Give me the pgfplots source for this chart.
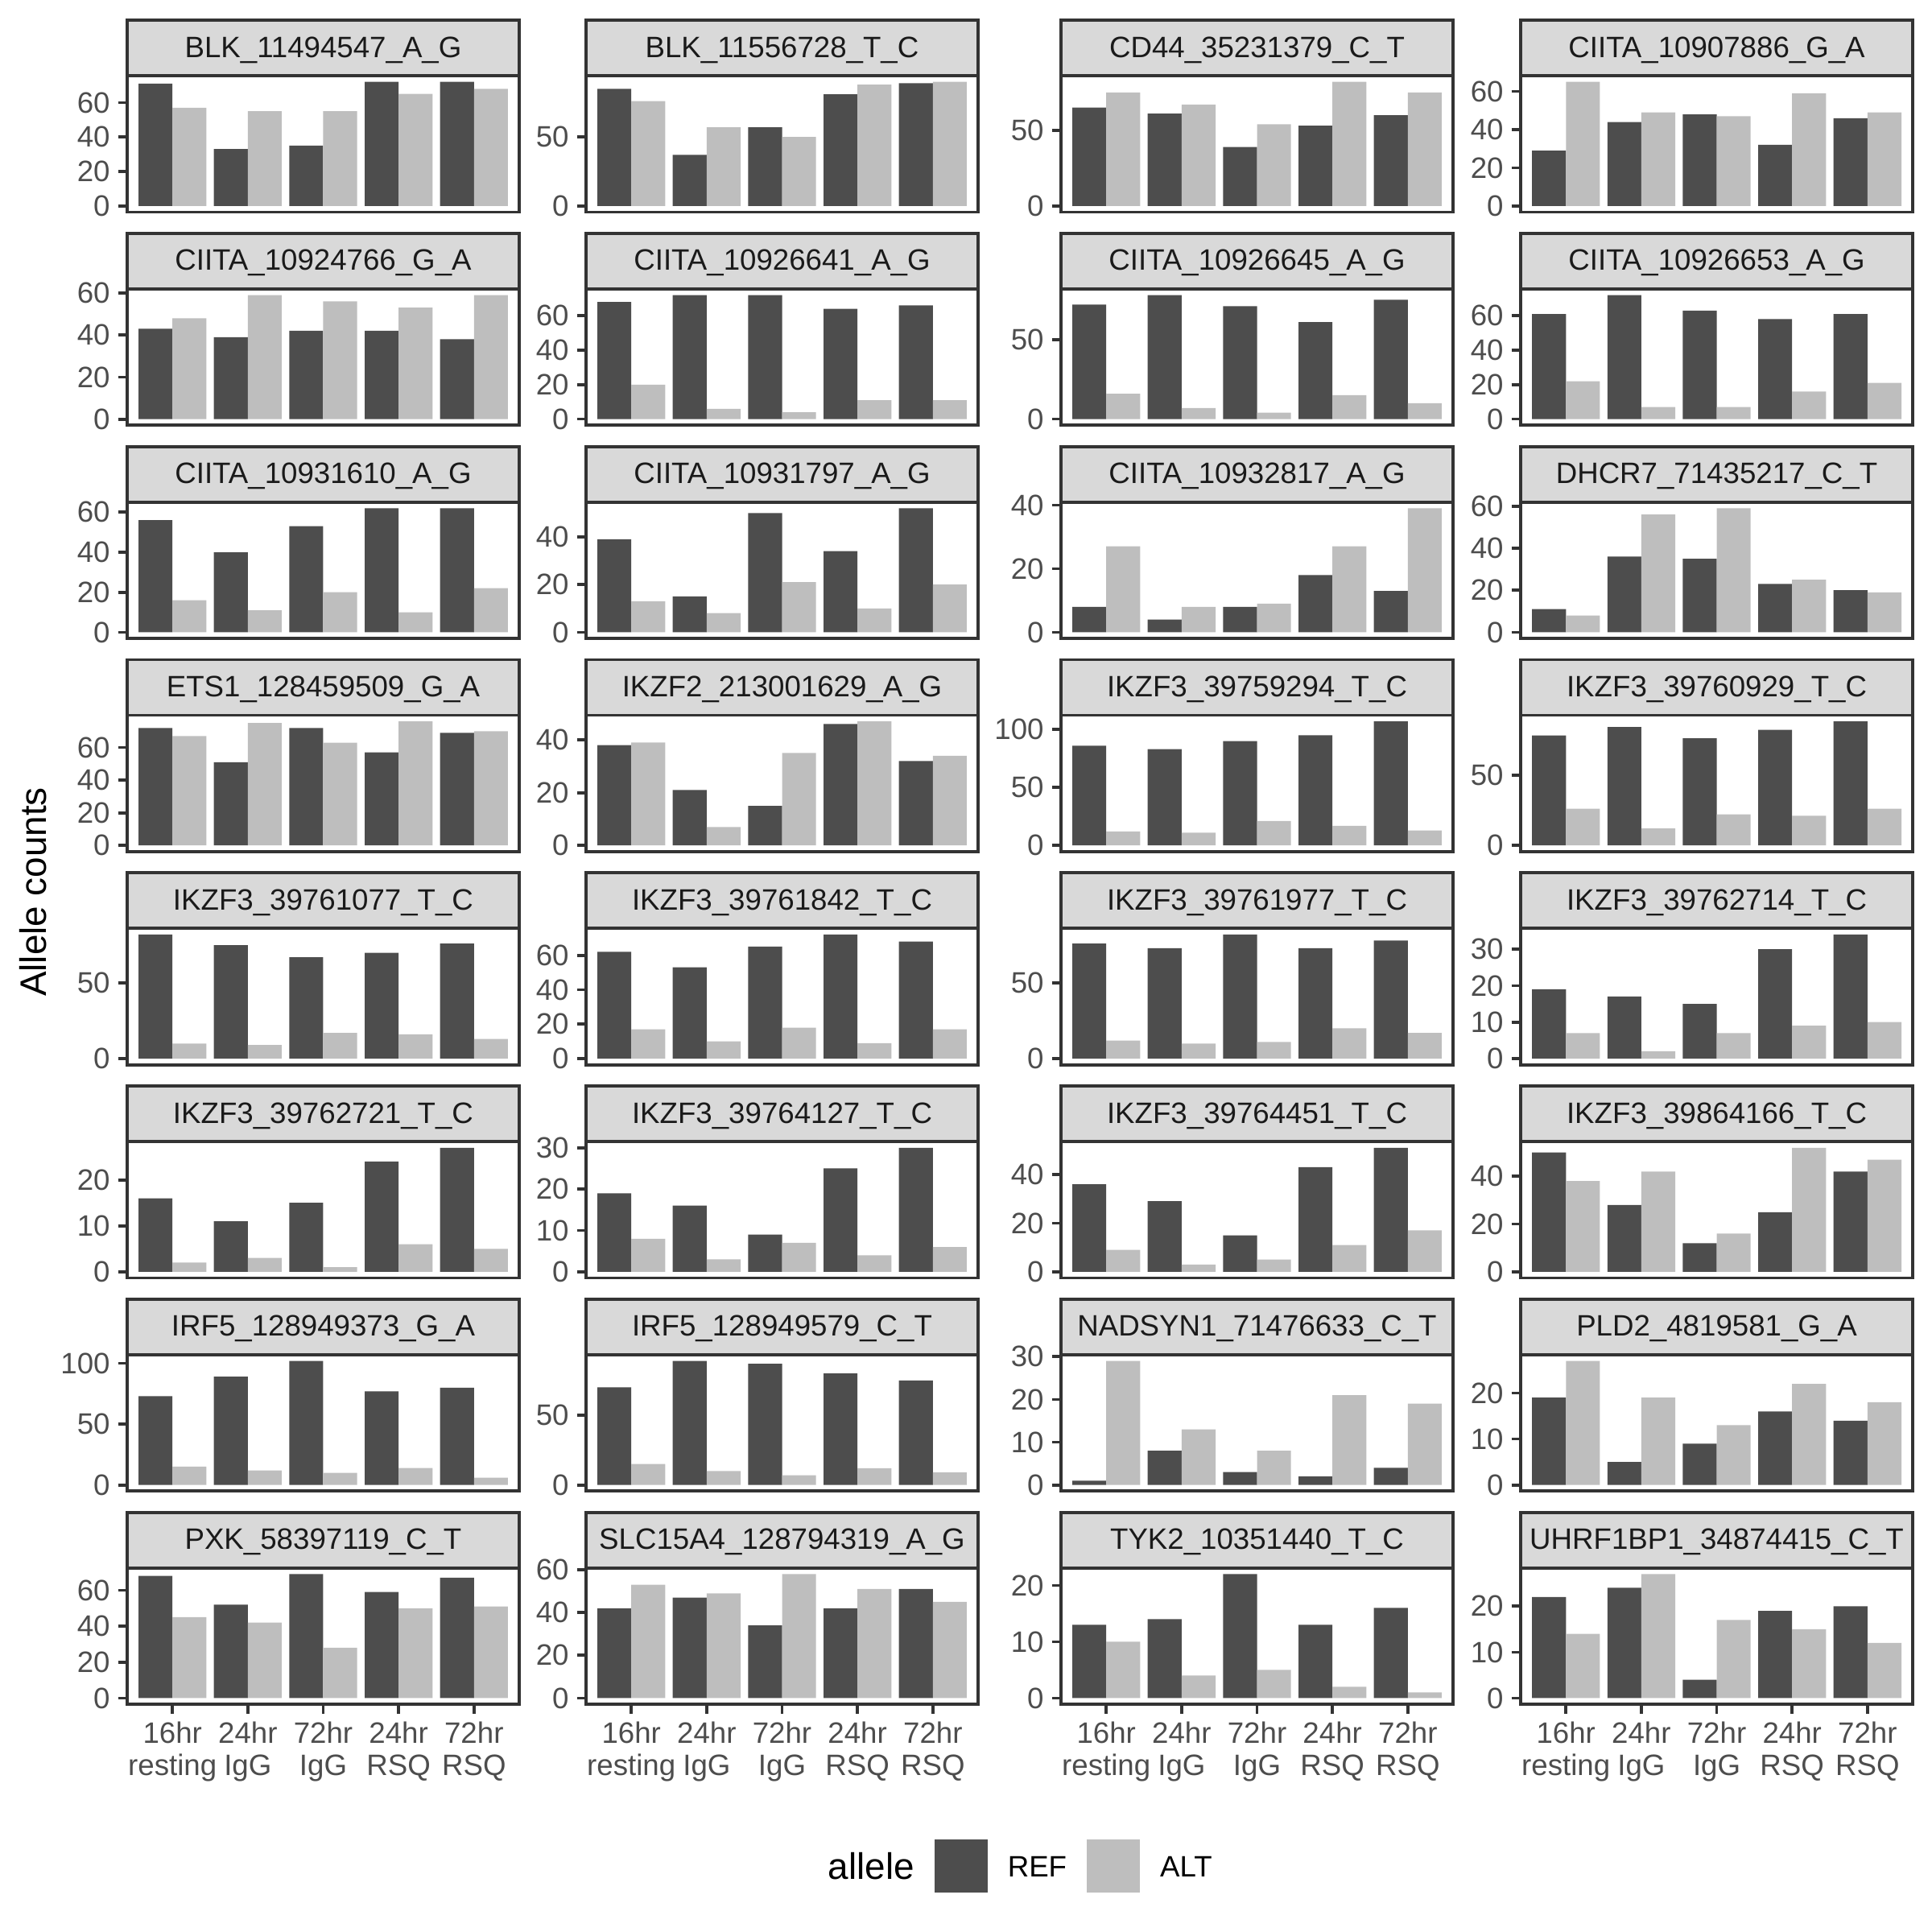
\documentclass[border=0pt]{standalone}
\usepackage{fontspec}
\setmainfont{Liberation Sans}
\usepackage{pgfplots}
\pgfplotsset{compat=1.18}
\definecolor{cREF}{HTML}{4D4D4D}
\definecolor{cALT}{HTML}{BEBEBE}
\definecolor{g20}{HTML}{333333}
\definecolor{g30}{HTML}{4D4D4D}
\definecolor{g85}{HTML}{D9D9D9}
\definecolor{g10}{HTML}{1A1A1A}
\newcommand{\ticksize}{\fontsize{8.8}{9.6}\selectfont}
\pgfplotsset{
 panel/.style={
  anchor=north west, scale only axis, width=116.88pt, height=40.68pt,
  xmin=0.4, xmax=5.6, enlargelimits=false, ybar,
  axis line style={draw=g20, line width=0.9pt},
  tick align=outside, tick pos=left, major tick length=2.75pt,
  tick style={draw=g20, line width=0.9pt},
  xtick=\empty, minor tick num=0,
  ticklabel style={font=\ticksize, text=g30, inner sep=0pt},
  yticklabel style={xshift=-2.2pt},
  xticklabel style={align=center, yshift=-2.2pt},
  /pgf/number format/assume math mode=true,
 },
 bottomrow/.style={xtick={1,2,3,4,5}, xticklabels={{16hr\\resting},{24hr\\IgG},{72hr\\IgG},{24hr\\RSQ},{72hr\\RSQ}}},
 refbar/.style={fill=cREF, draw=none, bar width=0.45, bar shift=-0.225},
 altbar/.style={fill=cALT, draw=none, bar width=0.45, bar shift=0.225},
 showlegend/.style={legend entries={REF,ALT}, legend columns=-1,
   legend image code/.code={\path[##1,draw=none] (0pt,-6.82pt) rectangle (15.84pt,9.02pt);},
   legend style={at={(2.0575,-1.1829)}, anchor=west, draw=none, fill=none, inner sep=0pt,
     font=\ticksize, text=black, nodes={inner sep=0pt},
     /tikz/every odd column/.append style={column sep=6pt},
     /tikz/every even column/.append style={column sep=6pt}}},
}
\tikzset{stripst/.style={fill=g85, draw=g20, line width=0.9pt},
 striptext/.style={font=\ticksize, text=g10, inner sep=0pt, anchor=base}}
\newcommand{\panel}[8]{%
\pgfmathsetmacro\pL{#1*0.24}%
\pgfmathsetmacro\pT{#2*0.24}%
\pgfmathsetmacro\ylo{-0.05*#5}%
\pgfmathsetmacro\yhi{1.05*#5}%
\begin{axis}[panel, at={(\pL pt,-\pT pt)}, ymin=\ylo, ymax=\yhi, ytick={#4}, #8]
\addplot[refbar] coordinates {#6};
\addplot[altbar] coordinates {#7};
\end{axis}
\draw[stripst] (\pL pt,-\pT pt) rectangle ++(116.88pt,16.56pt);
\node[striptext] at (\pL pt+58.44pt,-\pT pt+5.5pt) {#3};
}
\begin{document}
\begin{tikzpicture}
\useasboundingbox (0,0) rectangle (576pt,-576pt);
% row 1
\panel{158}{94}{BLK\_11494547\_A\_G}{0,20,40,60}{72}{(1,71)(2,33)(3,35)(4,72)(5,72)}{(1,57)(2,55)(3,55)(4,65)(5,68)}{}
\panel{728}{94}{BLK\_11556728\_T\_C}{0,50}{90}{(1,85)(2,37)(3,57)(4,81)(5,89)}{(1,76)(2,57)(3,50)(4,88)(5,90)}{}
\panel{1318}{94}{CD44\_35231379\_C\_T}{0,50}{82}{(1,65)(2,61)(3,39)(4,53)(5,60)}{(1,75)(2,67)(3,54)(4,82)(5,75)}{}
\panel{1889}{94}{CIITA\_10907886\_G\_A}{0,20,40,60}{65}{(1,29)(2,44)(3,48)(4,32)(5,46)}{(1,65)(2,49)(3,47)(4,59)(5,49)}{}
% row 2
\panel{158}{358.8}{CIITA\_10924766\_G\_A}{0,20,40,60}{59}{(1,43)(2,39)(3,42)(4,42)(5,38)}{(1,48)(2,59)(3,56)(4,53)(5,59)}{}
\panel{728}{358.8}{CIITA\_10926641\_A\_G}{0,20,40,60}{72}{(1,68)(2,72)(3,72)(4,64)(5,66)}{(1,20)(2,6)(3,4)(4,11)(5,11)}{}
\panel{1318}{358.8}{CIITA\_10926645\_A\_G}{0,50}{78}{(1,72)(2,78)(3,71)(4,61)(5,75)}{(1,16)(2,7)(3,4)(4,15)(5,10)}{}
\panel{1889}{358.8}{CIITA\_10926653\_A\_G}{0,20,40,60}{72}{(1,61)(2,72)(3,63)(4,58)(5,61)}{(1,22)(2,7)(3,7)(4,16)(5,21)}{}
% row 3
\panel{158}{623.6}{CIITA\_10931610\_A\_G}{0,20,40,60}{62}{(1,56)(2,40)(3,53)(4,62)(5,62)}{(1,16)(2,11)(3,20)(4,10)(5,22)}{}
\panel{728}{623.6}{CIITA\_10931797\_A\_G}{0,20,40}{52}{(1,39)(2,15)(3,50)(4,34)(5,52)}{(1,13)(2,8)(3,21)(4,10)(5,20)}{}
\panel{1318}{623.6}{CIITA\_10932817\_A\_G}{0,20,40}{39}{(1,8)(2,4)(3,8)(4,18)(5,13)}{(1,27)(2,8)(3,9)(4,27)(5,39)}{}
\panel{1889}{623.6}{DHCR7\_71435217\_C\_T}{0,20,40,60}{59}{(1,11)(2,36)(3,35)(4,23)(5,20)}{(1,8)(2,56)(3,59)(4,25)(5,19)}{}
% row 4
\panel{158}{888.4}{ETS1\_128459509\_G\_A}{0,20,40,60}{76}{(1,72)(2,51)(3,72)(4,57)(5,69)}{(1,67)(2,75)(3,63)(4,76)(5,70)}{}
\panel{728}{888.4}{IKZF2\_213001629\_A\_G}{0,20,40}{47}{(1,38)(2,21)(3,15)(4,46)(5,32)}{(1,39)(2,7)(3,35)(4,47)(5,34)}{}
\panel{1318}{888.4}{IKZF3\_39759294\_T\_C}{0,50,100}{107}{(1,86)(2,83)(3,90)(4,95)(5,107)}{(1,12)(2,11)(3,21)(4,17)(5,13)}{}
\panel{1889}{888.4}{IKZF3\_39760929\_T\_C}{0,50}{88}{(1,78)(2,84)(3,76)(4,82)(5,88)}{(1,26)(2,12)(3,22)(4,21)(5,26)}{}
% row 5
\panel{158}{1153.2}{IKZF3\_39761077\_T\_C}{0,50}{82}{(1,82)(2,75)(3,67)(4,70)(5,76)}{(1,10)(2,9)(3,17)(4,16)(5,13)}{}
\panel{728}{1153.2}{IKZF3\_39761842\_T\_C}{0,20,40,60}{72}{(1,62)(2,53)(3,65)(4,72)(5,68)}{(1,17)(2,10)(3,18)(4,9)(5,17)}{}
\panel{1318}{1153.2}{IKZF3\_39761977\_T\_C}{0,50}{82}{(1,76)(2,73)(3,82)(4,73)(5,78)}{(1,12)(2,10)(3,11)(4,20)(5,17)}{}
\panel{1889}{1153.2}{IKZF3\_39762714\_T\_C}{0,10,20,30}{34}{(1,19)(2,17)(3,15)(4,30)(5,34)}{(1,7)(2,2)(3,7)(4,9)(5,10)}{}
% row 6
\panel{158}{1418}{IKZF3\_39762721\_T\_C}{0,10,20}{27}{(1,16)(2,11)(3,15)(4,24)(5,27)}{(1,2)(2,3)(3,1)(4,6)(5,5)}{}
\panel{728}{1418}{IKZF3\_39764127\_T\_C}{0,10,20,30}{30}{(1,19)(2,16)(3,9)(4,25)(5,30)}{(1,8)(2,3)(3,7)(4,4)(5,6)}{}
\panel{1318}{1418}{IKZF3\_39764451\_T\_C}{0,20,40}{51}{(1,36)(2,29)(3,15)(4,43)(5,51)}{(1,9)(2,3)(3,5)(4,11)(5,17)}{}
\panel{1889}{1418}{IKZF3\_39864166\_T\_C}{0,20,40}{52}{(1,50)(2,28)(3,12)(4,25)(5,42)}{(1,38)(2,42)(3,16)(4,52)(5,47)}{}
% row 7
\panel{158}{1682.8}{IRF5\_128949373\_G\_A}{0,50,100}{102}{(1,73)(2,89)(3,102)(4,77)(5,80)}{(1,15)(2,12)(3,10)(4,14)(5,6)}{}
\panel{728}{1682.8}{IRF5\_128949579\_C\_T}{0,50}{89}{(1,70)(2,89)(3,87)(4,80)(5,75)}{(1,15)(2,10)(3,7)(4,12)(5,9)}{}
\panel{1318}{1682.8}{NADSYN1\_71476633\_C\_T}{0,10,20,30}{29}{(1,1)(2,8)(3,3)(4,2)(5,4)}{(1,29)(2,13)(3,8)(4,21)(5,19)}{}
\panel{1889}{1682.8}{PLD2\_4819581\_G\_A}{0,10,20}{27}{(1,19)(2,5)(3,9)(4,16)(5,14)}{(1,27)(2,19)(3,13)(4,22)(5,18)}{}
% row 8
\panel{158}{1947.6}{PXK\_58397119\_C\_T}{0,20,40,60}{69}{(1,68)(2,52)(3,69)(4,59)(5,67)}{(1,45)(2,42)(3,28)(4,50)(5,51)}{bottomrow, showlegend}
\panel{728}{1947.6}{SLC15A4\_128794319\_A\_G}{0,20,40,60}{58}{(1,42)(2,47)(3,34)(4,42)(5,51)}{(1,53)(2,49)(3,58)(4,51)(5,45)}{bottomrow}
\panel{1318}{1947.6}{TYK2\_10351440\_T\_C}{0,10,20}{22}{(1,13)(2,14)(3,22)(4,13)(5,16)}{(1,10)(2,4)(3,5)(4,2)(5,1)}{bottomrow}
\panel{1889}{1947.6}{UHRF1BP1\_34874415\_C\_T}{0,10,20}{27}{(1,22)(2,24)(3,4)(4,19)(5,20)}{(1,14)(2,27)(3,17)(4,15)(5,12)}{bottomrow}
% titles
\node[rotate=90, font=\fontsize{11}{13}\selectfont, inner sep=0pt] at (9.84pt,-265.9pt) {Allele counts};
\node[anchor=west, font=\fontsize{11}{13}\selectfont, inner sep=0pt] at (246.7pt,-556.3pt) {allele};
\end{tikzpicture}
\end{document}
